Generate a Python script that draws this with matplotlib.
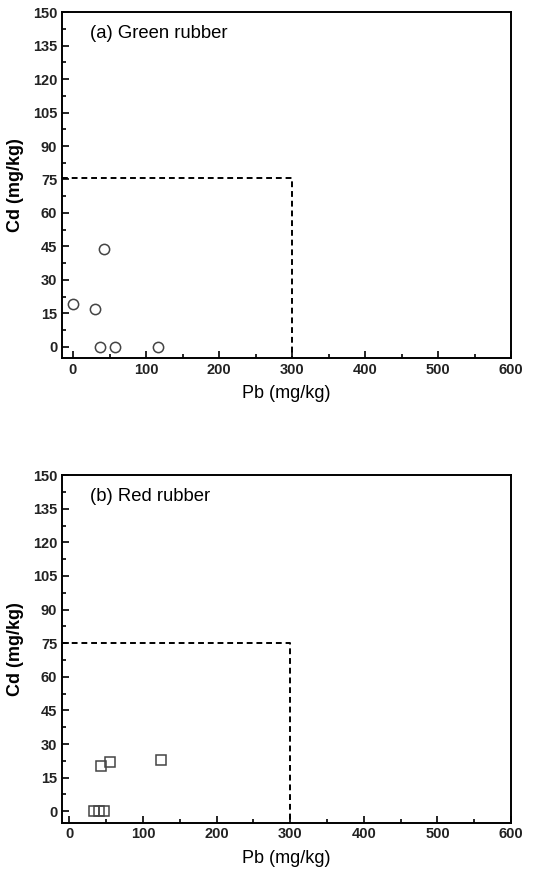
import matplotlib.pyplot as plt
from matplotlib.ticker import MultipleLocator

plt.rcParams['font.family'] = ['Liberation Sans', 'DejaVu Sans']

# (a) green rubber samples
green_pb = [0, 30, 42, 37, 57, 116]
green_cd = [19, 17, 44, 0, 0, 0]

# (b) red rubber samples
red_pb = [43, 55, 124, 34, 40, 47]
red_cd = [20, 22, 23, 0, 0, 0]

# limit values
pb_limit = 300
cd_limit = 75

fig = plt.figure(figsize=(5.49, 8.75), dpi=100)
ax1 = fig.add_axes([0.113, 0.591, 0.818, 0.395])
ax2 = fig.add_axes([0.113, 0.060, 0.818, 0.397])

panels = [
    (ax1, green_pb, green_cd, 'o', '(a) Green rubber', -15, 75.5),
    (ax2, red_pb, red_cd, 's', '(b) Red rubber', -10, 75),
]

for ax, xs, ys, mk, title, xmin, lim in panels:
    ax.plot(xs, ys, linestyle='none', marker=mk, markersize=7.4 if mk == 'o' else 6.8,
            markerfacecolor='none', markeredgecolor='#444444', markeredgewidth=1.1)
    ax.plot([xmin, pb_limit, pb_limit], [lim, lim, -5], color='black',
            linestyle=(0, (3, 2)), linewidth=1.4)
    ax.set_xlim(xmin, 600)
    ax.set_ylim(-5, 150)
    ax.xaxis.set_major_locator(MultipleLocator(100))
    ax.xaxis.set_minor_locator(MultipleLocator(50))
    ax.yaxis.set_major_locator(MultipleLocator(15))
    ax.yaxis.set_minor_locator(MultipleLocator(7.5))
    ax.tick_params(which='both', direction='in', top=False, right=False,
                   labelsize=10.5, width=1.2)
    ax.tick_params(which='major', length=5)
    ax.tick_params(which='minor', length=3)
    for lab in ax.get_xticklabels() + ax.get_yticklabels():
        lab.set_fontweight('bold')
        lab.set_color('#222222')
    for s in ax.spines.values():
        s.set_linewidth(1.4)
    ax.set_xlabel('Pb (mg/kg)', fontsize=13, labelpad=6)
    ax.set_ylabel('Cd (mg/kg)', fontsize=13, fontweight='bold', labelpad=6)
    ax.text(0.062, 0.962, title, transform=ax.transAxes, fontsize=13.3,
            ha='left', va='top')

fig.savefig('out.png', dpi=100)
